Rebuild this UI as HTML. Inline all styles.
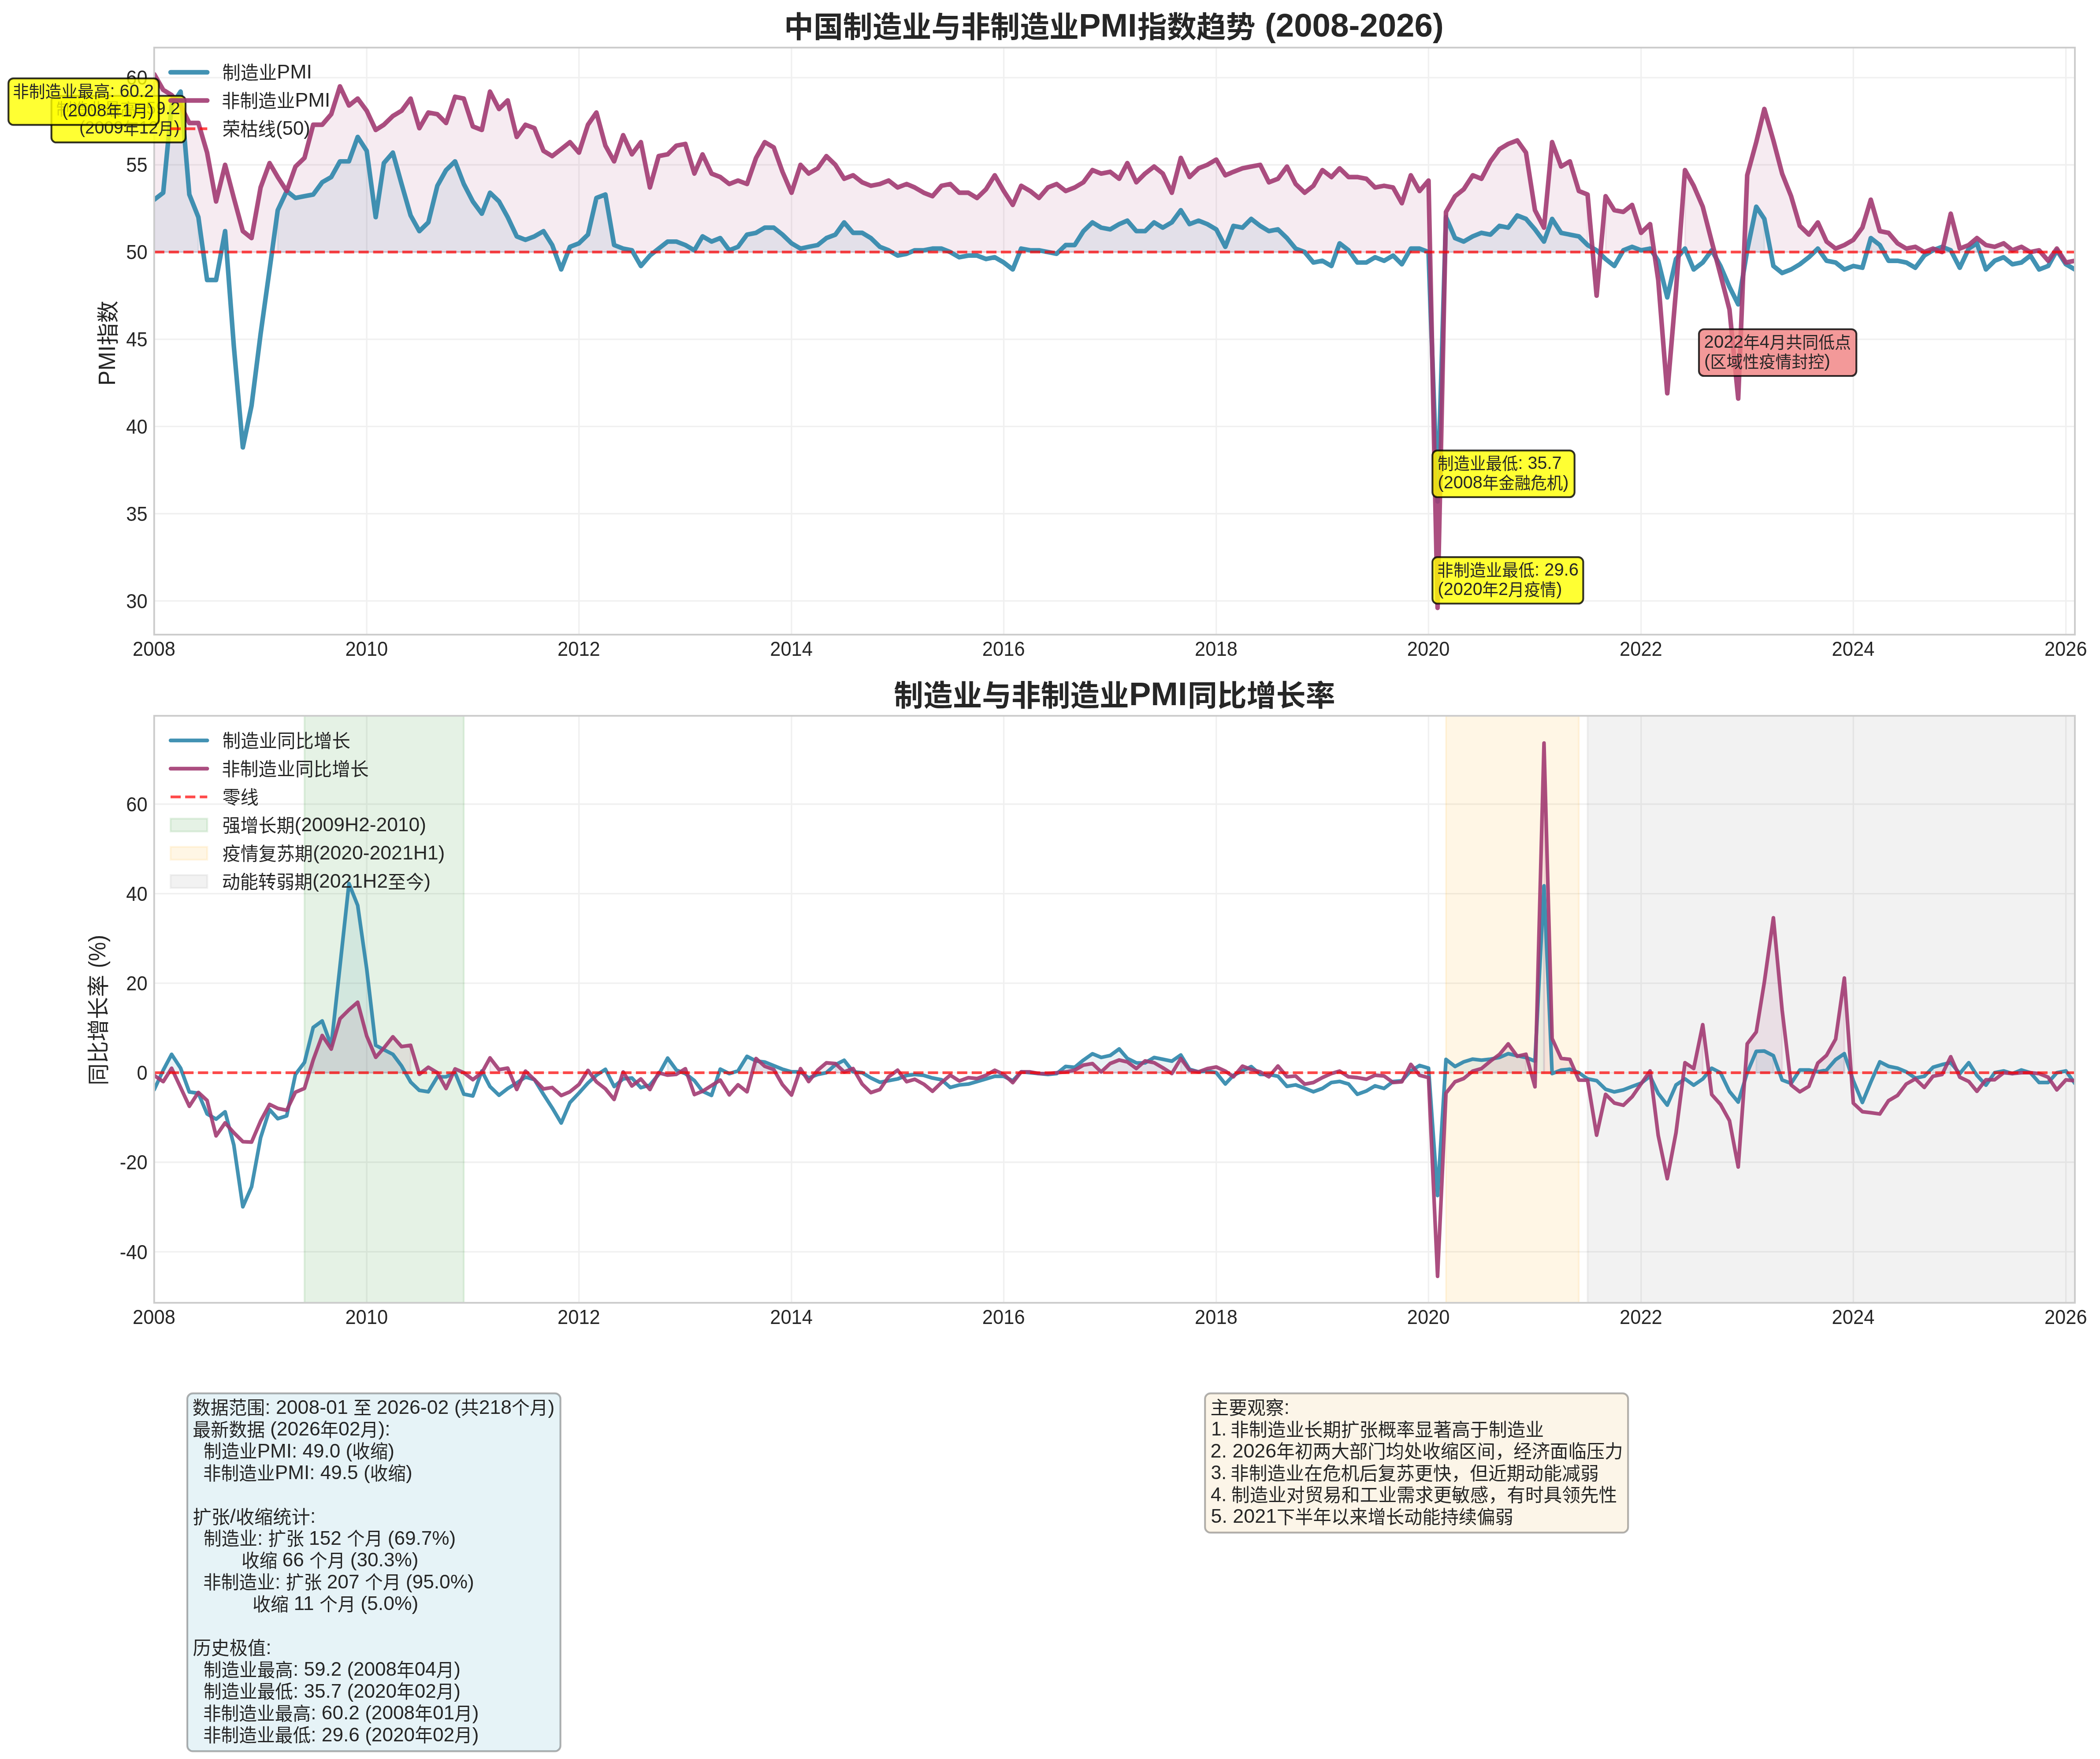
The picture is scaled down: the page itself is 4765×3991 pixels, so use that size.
<!DOCTYPE html>
<html lang="zh-CN"><head><meta charset="utf-8"><title>中国制造业与非制造业PMI指数趋势</title>
<style>html,body{margin:0;padding:0;background:#fff}svg{display:block;will-change:transform}</style></head>
<body>
<svg width="4765" height="3991" viewBox="0 0 4765 3991" font-family='"Liberation Sans","Noto Sans CJK SC",sans-serif' fill="#262626" xml:space="preserve" style="white-space:pre">
<rect width="4765" height="3991" fill="#fff"/>
<clipPath id="c1"><rect x="349.8" y="108.0" width="4358.2" height="1331.9"/></clipPath>
<clipPath id="c2"><rect x="349.8" y="1624.1" width="4358.2" height="1331.8"/></clipPath>
<path d="M349.8 108.0V1439.9M832.1 108.0V1439.9M1313.7 108.0V1439.9M1796.0 108.0V1439.9M2277.6 108.0V1439.9M2759.8 108.0V1439.9M3241.4 108.0V1439.9M3723.7 108.0V1439.9M4205.3 108.0V1439.9M4687.6 108.0V1439.9M349.8 1363.4H4708.0M349.8 1165.5H4708.0M349.8 967.6H4708.0M349.8 769.8H4708.0M349.8 571.9H4708.0M349.8 374.0H4708.0M349.8 176.1H4708.0" stroke="#ccc" stroke-opacity="0.3" stroke-width="3.3" fill="none"/>
<g clip-path="url(#c1)">
<path d="M349.8 571.9 L349.8 453.1 L370.3 437.3 L389.4 239.4 L409.8 207.8 L429.6 441.3 L450.1 492.7 L450.1 571.9Z M630.2 571.9 L630.2 476.9 L650.6 433.4 L670.4 449.2 L690.9 445.2 L710.7 441.3 L731.1 413.6 L751.6 401.7 L771.4 366.1 L791.8 366.1 L811.6 310.7 L832.1 342.3 L852.5 492.7 L871.0 370.0 L891.4 346.3 L911.2 417.5 L931.7 488.8 L951.5 524.4 L971.9 504.6 L992.4 421.5 L1012.2 385.9 L1032.6 366.1 L1052.4 417.5 L1072.9 457.1 L1093.3 484.8 L1111.8 437.3 L1132.3 457.1 L1152.0 492.7 L1172.5 536.3 L1192.3 544.2 L1212.7 536.3 L1233.2 524.4 L1253.0 556.0 L1253.0 571.9Z M1293.2 571.9 L1293.2 560.0 L1313.7 552.1 L1334.1 532.3 L1353.3 449.2 L1373.7 441.3 L1393.5 556.0 L1414.0 564.0 L1433.8 567.9 L1433.8 571.9Z M1494.5 571.9 L1494.5 564.0 L1514.9 548.1 L1534.7 548.1 L1555.1 556.0 L1575.6 567.9 L1594.1 536.3 L1614.5 548.1 L1634.3 540.2 L1654.8 567.9 L1674.6 560.0 L1695.0 532.3 L1715.5 528.3 L1735.3 516.5 L1755.7 516.5 L1775.5 532.3 L1796.0 552.1 L1816.4 564.0 L1834.9 560.0 L1855.3 556.0 L1875.1 540.2 L1895.6 532.3 L1915.4 504.6 L1935.8 528.3 L1956.3 528.3 L1976.1 540.2 L1996.5 560.0 L2016.3 567.9 L2016.3 571.9Z M2075.7 571.9 L2075.7 567.9 L2096.1 567.9 L2115.9 564.0 L2136.4 564.0 L2156.2 571.9 L2156.2 571.9Z M2317.1 571.9 L2317.1 564.0 L2337.6 567.9 L2357.4 567.9 L2377.8 571.9 L2377.8 571.9Z M2418.1 571.9 L2418.1 556.0 L2438.5 556.0 L2458.3 524.4 L2478.8 504.6 L2498.6 516.5 L2519.0 520.4 L2539.5 508.5 L2558.0 500.6 L2578.4 524.4 L2598.2 524.4 L2618.7 504.6 L2638.4 516.5 L2658.9 504.6 L2679.3 476.9 L2699.1 508.5 L2719.6 500.6 L2739.4 508.5 L2759.8 520.4 L2780.3 560.0 L2798.8 512.5 L2819.2 516.5 L2839.0 496.7 L2859.5 512.5 L2879.2 524.4 L2899.7 520.4 L2920.2 540.2 L2939.9 564.0 L2960.4 571.9 L2960.4 571.9Z M3039.6 571.9 L3039.6 552.1 L3060.0 567.9 L3060.0 571.9Z M3201.2 571.9 L3201.2 564.0 L3221.0 564.0 L3241.4 571.9 L3241.4 571.9Z M3281.0 571.9 L3281.0 492.7 L3301.5 540.2 L3321.3 548.1 L3341.7 536.3 L3361.5 528.3 L3382.0 532.3 L3402.4 512.5 L3422.2 516.5 L3442.7 488.8 L3462.5 496.7 L3482.9 520.4 L3503.4 548.1 L3521.8 496.7 L3542.3 528.3 L3562.1 532.3 L3582.5 536.3 L3602.3 556.0 L3622.8 567.9 L3622.8 571.9Z M3683.5 571.9 L3683.5 567.9 L3703.3 560.0 L3723.7 567.9 L3744.2 564.0 L3744.2 571.9Z M3964.5 571.9 L3964.5 567.9 L3985.0 469.0 L4003.4 496.7 L4003.4 571.9Z M4244.9 571.9 L4244.9 540.2 L4265.4 556.0 L4265.4 571.9Z M4386.1 571.9 L4386.1 567.9 L4406.6 560.0 L4426.3 567.9 L4426.3 571.9Z M4467.2 571.9 L4467.2 564.0 L4485.7 552.1 L4485.7 571.9Z" fill="#2E86AB" fill-opacity="0.1" stroke="#2E86AB" stroke-opacity="0.1" stroke-width="4.17" stroke-linejoin="miter"/>
<path d="M349.8 571.9 L349.8 168.2 L370.3 203.8 L389.4 215.7 L409.8 239.4 L429.6 279.0 L450.1 279.0 L469.9 346.3 L490.3 457.1 L510.8 374.0 L530.6 449.2 L551.0 524.4 L570.8 540.2 L591.3 425.4 L611.7 370.0 L630.2 401.7 L650.6 433.4 L670.4 377.9 L690.9 358.2 L710.7 283.0 L731.1 283.0 L751.6 259.2 L771.4 195.9 L791.8 239.4 L811.6 223.6 L832.1 251.3 L852.5 294.8 L871.0 283.0 L891.4 263.2 L911.2 251.3 L931.7 223.6 L951.5 290.9 L971.9 255.3 L992.4 259.2 L1012.2 279.0 L1032.6 219.6 L1052.4 223.6 L1072.9 286.9 L1093.3 294.8 L1111.8 207.8 L1132.3 247.3 L1152.0 227.6 L1172.5 310.7 L1192.3 283.0 L1212.7 290.9 L1233.2 342.3 L1253.0 354.2 L1273.4 338.4 L1293.2 322.5 L1313.7 346.3 L1334.1 283.0 L1353.3 255.3 L1373.7 330.5 L1393.5 366.1 L1414.0 306.7 L1433.8 350.2 L1454.2 322.5 L1474.7 425.4 L1494.5 354.2 L1514.9 350.2 L1534.7 330.5 L1555.1 326.5 L1575.6 393.8 L1594.1 350.2 L1614.5 393.8 L1634.3 401.7 L1654.8 417.5 L1674.6 409.6 L1695.0 417.5 L1715.5 358.2 L1735.3 322.5 L1755.7 334.4 L1775.5 389.8 L1796.0 437.3 L1816.4 374.0 L1834.9 393.8 L1855.3 381.9 L1875.1 354.2 L1895.6 374.0 L1915.4 405.6 L1935.8 397.7 L1956.3 413.6 L1976.1 421.5 L1996.5 417.5 L2016.3 409.6 L2036.8 425.4 L2057.2 417.5 L2075.7 425.4 L2096.1 437.3 L2115.9 445.2 L2136.4 421.5 L2156.2 417.5 L2176.6 437.3 L2197.1 437.3 L2216.9 449.2 L2237.3 429.4 L2257.1 397.7 L2277.6 433.4 L2298.0 465.0 L2317.1 421.5 L2337.6 433.4 L2357.4 449.2 L2377.8 425.4 L2397.6 417.5 L2418.1 433.4 L2438.5 425.4 L2458.3 413.6 L2478.8 385.9 L2498.6 393.8 L2519.0 389.8 L2539.5 405.6 L2558.0 370.0 L2578.4 413.6 L2598.2 393.8 L2618.7 377.9 L2638.4 393.8 L2658.9 437.3 L2679.3 358.2 L2699.1 401.7 L2719.6 381.9 L2739.4 374.0 L2759.8 362.1 L2780.3 397.7 L2798.8 389.8 L2819.2 381.9 L2839.0 377.9 L2859.5 374.0 L2879.2 413.6 L2899.7 405.6 L2920.2 377.9 L2939.9 417.5 L2960.4 437.3 L2980.2 421.5 L3000.6 385.9 L3021.1 401.7 L3039.6 381.9 L3060.0 401.7 L3079.8 401.7 L3100.3 405.6 L3120.1 425.4 L3140.5 421.5 L3161.0 425.4 L3180.8 461.1 L3201.2 397.7 L3221.0 433.4 L3241.4 409.6 L3241.4 571.9Z M3281.0 571.9 L3281.0 480.8 L3301.5 445.2 L3321.3 429.4 L3341.7 397.7 L3361.5 405.6 L3382.0 366.1 L3402.4 338.4 L3422.2 326.5 L3442.7 318.6 L3462.5 346.3 L3482.9 476.9 L3503.4 516.5 L3521.8 322.5 L3542.3 377.9 L3562.1 366.1 L3582.5 433.4 L3602.3 441.3 L3602.3 571.9Z M3643.2 571.9 L3643.2 445.2 L3663.0 476.9 L3683.5 480.8 L3703.3 465.0 L3723.7 528.3 L3744.2 508.5 L3744.2 571.9Z M3823.3 571.9 L3823.3 385.9 L3843.1 421.5 L3863.6 469.0 L3884.0 548.1 L3884.0 571.9Z M3964.5 571.9 L3964.5 397.7 L3985.0 322.5 L4003.4 247.3 L4023.9 318.6 L4043.7 393.8 L4064.1 445.2 L4083.9 512.5 L4104.4 532.3 L4124.8 504.6 L4144.6 548.1 L4165.1 564.0 L4184.9 556.0 L4205.3 544.2 L4225.8 516.5 L4244.9 453.1 L4265.4 524.4 L4285.2 528.3 L4305.6 552.1 L4325.4 564.0 L4345.9 560.0 L4366.3 571.9 L4386.1 564.0 L4406.6 571.9 L4426.3 484.8 L4446.8 564.0 L4467.2 556.0 L4485.7 540.2 L4506.2 556.0 L4526.0 560.0 L4546.4 552.1 L4566.2 567.9 L4586.7 560.0 L4607.1 571.9 L4626.9 567.9 L4626.9 571.9Z" fill="#A23B72" fill-opacity="0.1" stroke="#A23B72" stroke-opacity="0.1" stroke-width="4.17" stroke-linejoin="miter"/>
<polyline points="349.8,453.1 370.3,437.3 389.4,239.4 409.8,207.8 429.6,441.3 450.1,492.7 469.9,635.2 490.3,635.2 510.8,524.4 530.6,785.6 551.0,1015.1 570.8,920.1 591.3,757.9 611.7,611.4 630.2,476.9 650.6,433.4 670.4,449.2 690.9,445.2 710.7,441.3 731.1,413.6 751.6,401.7 771.4,366.1 791.8,366.1 811.6,310.7 832.1,342.3 852.5,492.7 871.0,370.0 891.4,346.3 911.2,417.5 931.7,488.8 951.5,524.4 971.9,504.6 992.4,421.5 1012.2,385.9 1032.6,366.1 1052.4,417.5 1072.9,457.1 1093.3,484.8 1111.8,437.3 1132.3,457.1 1152.0,492.7 1172.5,536.3 1192.3,544.2 1212.7,536.3 1233.2,524.4 1253.0,556.0 1273.4,611.4 1293.2,560.0 1313.7,552.1 1334.1,532.3 1353.3,449.2 1373.7,441.3 1393.5,556.0 1414.0,564.0 1433.8,567.9 1454.2,603.5 1474.7,579.8 1494.5,564.0 1514.9,548.1 1534.7,548.1 1555.1,556.0 1575.6,567.9 1594.1,536.3 1614.5,548.1 1634.3,540.2 1654.8,567.9 1674.6,560.0 1695.0,532.3 1715.5,528.3 1735.3,516.5 1755.7,516.5 1775.5,532.3 1796.0,552.1 1816.4,564.0 1834.9,560.0 1855.3,556.0 1875.1,540.2 1895.6,532.3 1915.4,504.6 1935.8,528.3 1956.3,528.3 1976.1,540.2 1996.5,560.0 2016.3,567.9 2036.8,579.8 2057.2,575.8 2075.7,567.9 2096.1,567.9 2115.9,564.0 2136.4,564.0 2156.2,571.9 2176.6,583.7 2197.1,579.8 2216.9,579.8 2237.3,587.7 2257.1,583.7 2277.6,595.6 2298.0,611.4 2317.1,564.0 2337.6,567.9 2357.4,567.9 2377.8,571.9 2397.6,575.8 2418.1,556.0 2438.5,556.0 2458.3,524.4 2478.8,504.6 2498.6,516.5 2519.0,520.4 2539.5,508.5 2558.0,500.6 2578.4,524.4 2598.2,524.4 2618.7,504.6 2638.4,516.5 2658.9,504.6 2679.3,476.9 2699.1,508.5 2719.6,500.6 2739.4,508.5 2759.8,520.4 2780.3,560.0 2798.8,512.5 2819.2,516.5 2839.0,496.7 2859.5,512.5 2879.2,524.4 2899.7,520.4 2920.2,540.2 2939.9,564.0 2960.4,571.9 2980.2,595.6 3000.6,591.7 3021.1,603.5 3039.6,552.1 3060.0,567.9 3079.8,595.6 3100.3,595.6 3120.1,583.7 3140.5,591.7 3161.0,579.8 3180.8,599.6 3201.2,564.0 3221.0,564.0 3241.4,571.9 3261.9,1137.8 3281.0,492.7 3301.5,540.2 3321.3,548.1 3341.7,536.3 3361.5,528.3 3382.0,532.3 3402.4,512.5 3422.2,516.5 3442.7,488.8 3462.5,496.7 3482.9,520.4 3503.4,548.1 3521.8,496.7 3542.3,528.3 3562.1,532.3 3582.5,536.3 3602.3,556.0 3622.8,567.9 3643.2,587.7 3663.0,603.5 3683.5,567.9 3703.3,560.0 3723.7,567.9 3744.2,564.0 3762.6,591.7 3783.1,674.8 3802.9,587.7 3823.3,564.0 3843.1,611.4 3863.6,595.6 3884.0,567.9 3903.8,603.5 3924.3,651.0 3944.1,690.6 3964.5,567.9 3985.0,469.0 4003.4,496.7 4023.9,603.5 4043.7,619.4 4064.1,611.4 4083.9,599.6 4104.4,583.7 4124.8,564.0 4144.6,591.7 4165.1,595.6 4184.9,611.4 4205.3,603.5 4225.8,607.5 4244.9,540.2 4265.4,556.0 4285.2,591.7 4305.6,591.7 4325.4,595.6 4345.9,607.5 4366.3,579.8 4386.1,567.9 4406.6,560.0 4426.3,567.9 4446.8,607.5 4467.2,564.0 4485.7,552.1 4506.2,611.4 4526.0,591.7 4546.4,583.7 4566.2,599.6 4586.7,595.6 4607.1,579.8 4626.9,611.4 4647.4,603.5 4667.1,567.9 4687.6,599.6 4708.1,611.4" fill="none" stroke="#2E86AB" stroke-opacity="0.9" stroke-width="10.4" stroke-linejoin="round" stroke-linecap="round"/>
<polyline points="349.8,168.2 370.3,203.8 389.4,215.7 409.8,239.4 429.6,279.0 450.1,279.0 469.9,346.3 490.3,457.1 510.8,374.0 530.6,449.2 551.0,524.4 570.8,540.2 591.3,425.4 611.7,370.0 630.2,401.7 650.6,433.4 670.4,377.9 690.9,358.2 710.7,283.0 731.1,283.0 751.6,259.2 771.4,195.9 791.8,239.4 811.6,223.6 832.1,251.3 852.5,294.8 871.0,283.0 891.4,263.2 911.2,251.3 931.7,223.6 951.5,290.9 971.9,255.3 992.4,259.2 1012.2,279.0 1032.6,219.6 1052.4,223.6 1072.9,286.9 1093.3,294.8 1111.8,207.8 1132.3,247.3 1152.0,227.6 1172.5,310.7 1192.3,283.0 1212.7,290.9 1233.2,342.3 1253.0,354.2 1273.4,338.4 1293.2,322.5 1313.7,346.3 1334.1,283.0 1353.3,255.3 1373.7,330.5 1393.5,366.1 1414.0,306.7 1433.8,350.2 1454.2,322.5 1474.7,425.4 1494.5,354.2 1514.9,350.2 1534.7,330.5 1555.1,326.5 1575.6,393.8 1594.1,350.2 1614.5,393.8 1634.3,401.7 1654.8,417.5 1674.6,409.6 1695.0,417.5 1715.5,358.2 1735.3,322.5 1755.7,334.4 1775.5,389.8 1796.0,437.3 1816.4,374.0 1834.9,393.8 1855.3,381.9 1875.1,354.2 1895.6,374.0 1915.4,405.6 1935.8,397.7 1956.3,413.6 1976.1,421.5 1996.5,417.5 2016.3,409.6 2036.8,425.4 2057.2,417.5 2075.7,425.4 2096.1,437.3 2115.9,445.2 2136.4,421.5 2156.2,417.5 2176.6,437.3 2197.1,437.3 2216.9,449.2 2237.3,429.4 2257.1,397.7 2277.6,433.4 2298.0,465.0 2317.1,421.5 2337.6,433.4 2357.4,449.2 2377.8,425.4 2397.6,417.5 2418.1,433.4 2438.5,425.4 2458.3,413.6 2478.8,385.9 2498.6,393.8 2519.0,389.8 2539.5,405.6 2558.0,370.0 2578.4,413.6 2598.2,393.8 2618.7,377.9 2638.4,393.8 2658.9,437.3 2679.3,358.2 2699.1,401.7 2719.6,381.9 2739.4,374.0 2759.8,362.1 2780.3,397.7 2798.8,389.8 2819.2,381.9 2839.0,377.9 2859.5,374.0 2879.2,413.6 2899.7,405.6 2920.2,377.9 2939.9,417.5 2960.4,437.3 2980.2,421.5 3000.6,385.9 3021.1,401.7 3039.6,381.9 3060.0,401.7 3079.8,401.7 3100.3,405.6 3120.1,425.4 3140.5,421.5 3161.0,425.4 3180.8,461.1 3201.2,397.7 3221.0,433.4 3241.4,409.6 3261.9,1379.2 3281.0,480.8 3301.5,445.2 3321.3,429.4 3341.7,397.7 3361.5,405.6 3382.0,366.1 3402.4,338.4 3422.2,326.5 3442.7,318.6 3462.5,346.3 3482.9,476.9 3503.4,516.5 3521.8,322.5 3542.3,377.9 3562.1,366.1 3582.5,433.4 3602.3,441.3 3622.8,670.8 3643.2,445.2 3663.0,476.9 3683.5,480.8 3703.3,465.0 3723.7,528.3 3744.2,508.5 3762.6,635.2 3783.1,892.4 3802.9,658.9 3823.3,385.9 3843.1,421.5 3863.6,469.0 3884.0,548.1 3903.8,623.3 3924.3,702.5 3944.1,904.3 3964.5,397.7 3985.0,322.5 4003.4,247.3 4023.9,318.6 4043.7,393.8 4064.1,445.2 4083.9,512.5 4104.4,532.3 4124.8,504.6 4144.6,548.1 4165.1,564.0 4184.9,556.0 4205.3,544.2 4225.8,516.5 4244.9,453.1 4265.4,524.4 4285.2,528.3 4305.6,552.1 4325.4,564.0 4345.9,560.0 4366.3,571.9 4386.1,564.0 4406.6,571.9 4426.3,484.8 4446.8,564.0 4467.2,556.0 4485.7,540.2 4506.2,556.0 4526.0,560.0 4546.4,552.1 4566.2,567.9 4586.7,560.0 4607.1,571.9 4626.9,567.9 4647.4,591.7 4667.1,564.0 4687.6,595.6 4708.1,591.7" fill="none" stroke="#A23B72" stroke-opacity="0.9" stroke-width="10.4" stroke-linejoin="round" stroke-linecap="round"/>
<path d="M349.8 571.9H4708.0" stroke="#f00" stroke-opacity="0.7" stroke-width="6.25" stroke-dasharray="23.125 10" fill="none"/>
</g>
<rect x="349.8" y="108.0" width="4358.2" height="1331.9" fill="none" stroke="#ccc" stroke-width="3.9"/>
<text><tspan x="301.1" y="1487.5" font-size="45.50" textLength="96.8" lengthAdjust="spacingAndGlyphs">2008</tspan></text>
<text><tspan x="783.4" y="1487.5" font-size="45.50" textLength="96.8" lengthAdjust="spacingAndGlyphs">2010</tspan></text>
<text><tspan x="1265.0" y="1487.5" font-size="45.50" textLength="96.8" lengthAdjust="spacingAndGlyphs">2012</tspan></text>
<text><tspan x="1747.2" y="1487.5" font-size="45.50" textLength="96.8" lengthAdjust="spacingAndGlyphs">2014</tspan></text>
<text><tspan x="2228.8" y="1487.5" font-size="45.50" textLength="96.8" lengthAdjust="spacingAndGlyphs">2016</tspan></text>
<text><tspan x="2711.1" y="1487.5" font-size="45.50" textLength="96.8" lengthAdjust="spacingAndGlyphs">2018</tspan></text>
<text><tspan x="3192.7" y="1487.5" font-size="45.50" textLength="96.8" lengthAdjust="spacingAndGlyphs">2020</tspan></text>
<text><tspan x="3675.0" y="1487.5" font-size="45.50" textLength="96.8" lengthAdjust="spacingAndGlyphs">2022</tspan></text>
<text><tspan x="4156.6" y="1487.5" font-size="45.50" textLength="96.8" lengthAdjust="spacingAndGlyphs">2024</tspan></text>
<text><tspan x="4638.9" y="1487.5" font-size="45.50" textLength="96.8" lengthAdjust="spacingAndGlyphs">2026</tspan></text>
<text><tspan x="286.3" y="1379.7" font-size="45.50" textLength="48.4" lengthAdjust="spacingAndGlyphs">30</tspan></text>
<text><tspan x="286.3" y="1181.8" font-size="45.50" textLength="48.4" lengthAdjust="spacingAndGlyphs">35</tspan></text>
<text><tspan x="286.3" y="983.9" font-size="45.50" textLength="48.4" lengthAdjust="spacingAndGlyphs">40</tspan></text>
<text><tspan x="286.3" y="786.1" font-size="45.50" textLength="48.4" lengthAdjust="spacingAndGlyphs">45</tspan></text>
<text><tspan x="286.3" y="588.2" font-size="45.50" textLength="48.4" lengthAdjust="spacingAndGlyphs">50</tspan></text>
<text><tspan x="286.3" y="390.3" font-size="45.50" textLength="48.4" lengthAdjust="spacingAndGlyphs">55</tspan></text>
<text><tspan x="286.3" y="192.4" font-size="45.50" textLength="48.4" lengthAdjust="spacingAndGlyphs">60</tspan></text>
<text font-weight="bold"><tspan x="1779.0" y="85.2" font-size="66.67" textLength="669.0" lengthAdjust="spacingAndGlyphs">中国制造业与非制造业</tspan><tspan x="2447.9" y="82.9" font-size="74.00" textLength="131.7" lengthAdjust="spacingAndGlyphs">PMI</tspan><tspan x="2581.1" y="85.2" font-size="66.67" textLength="267.5" lengthAdjust="spacingAndGlyphs">指数趋势</tspan> <tspan x="2869.9" y="82.9" font-size="74.00" textLength="405.9" lengthAdjust="spacingAndGlyphs">(2008-2026)</tspan></text>
<text transform="translate(260.9,871.1) rotate(-90)"><tspan x="-3.8" y="0.0" font-size="54.25" textLength="91.1" lengthAdjust="spacingAndGlyphs">PMI</tspan><tspan x="87.9" y="1.8" font-size="50.00" textLength="101.1" lengthAdjust="spacingAndGlyphs">指数</tspan></text>
<rect x="116.7" y="217.5" width="304.3" height="105.7" rx="11.25" ry="11.25" fill="#ff0" fill-opacity="0.8" stroke="#000" stroke-opacity="0.8" stroke-width="4.17"/>
<text><tspan x="127.6" y="260.6" font-size="37.50" textLength="182.2" lengthAdjust="spacingAndGlyphs">制造业最高</tspan><tspan x="309.8" y="259.3" font-size="40.69" textLength="98.9" lengthAdjust="spacingAndGlyphs">: 59.2</tspan></text>
<text><tspan x="180.1" y="303.3" font-size="40.69" textLength="99.6" lengthAdjust="spacingAndGlyphs">(2009</tspan><tspan x="279.7" y="304.6" font-size="37.50" textLength="35.9" lengthAdjust="spacingAndGlyphs">年</tspan><tspan x="315.6" y="303.3" font-size="40.69" textLength="43.3" lengthAdjust="spacingAndGlyphs">12</tspan><tspan x="358.9" y="304.6" font-size="37.50" textLength="35.9" lengthAdjust="spacingAndGlyphs">月</tspan><tspan x="394.8" y="303.3" font-size="40.69" textLength="13.0" lengthAdjust="spacingAndGlyphs">)</tspan></text>
<rect x="19.2" y="177.8" width="341.2" height="105.5" rx="11.25" ry="11.25" fill="#ff0" fill-opacity="0.8" stroke="#000" stroke-opacity="0.8" stroke-width="4.17"/>
<text><tspan x="29.0" y="220.9" font-size="37.50" textLength="220.4" lengthAdjust="spacingAndGlyphs">非制造业最高</tspan><tspan x="249.4" y="219.6" font-size="40.69" textLength="99.7" lengthAdjust="spacingAndGlyphs">: 60.2</tspan></text>
<text><tspan x="141.1" y="263.6" font-size="40.69" textLength="100.4" lengthAdjust="spacingAndGlyphs">(2008</tspan><tspan x="241.4" y="264.9" font-size="37.50" textLength="36.2" lengthAdjust="spacingAndGlyphs">年</tspan><tspan x="277.6" y="263.6" font-size="40.69" textLength="21.8" lengthAdjust="spacingAndGlyphs">1</tspan><tspan x="299.4" y="264.9" font-size="37.50" textLength="36.2" lengthAdjust="spacingAndGlyphs">月</tspan><tspan x="335.6" y="263.6" font-size="40.69" textLength="13.1" lengthAdjust="spacingAndGlyphs">)</tspan></text>
<rect x="3250.3" y="1022.2" width="322.4" height="105.8" rx="11.25" ry="11.25" fill="#ff0" fill-opacity="0.8" stroke="#000" stroke-opacity="0.8" stroke-width="4.17"/>
<text><tspan x="3262.1" y="1065.3" font-size="37.50" textLength="182.4" lengthAdjust="spacingAndGlyphs">制造业最低</tspan><tspan x="3444.6" y="1064.0" font-size="40.69" textLength="99.0" lengthAdjust="spacingAndGlyphs">: 35.7</tspan></text>
<text><tspan x="3262.6" y="1108.0" font-size="40.69" textLength="101.3" lengthAdjust="spacingAndGlyphs">(2008</tspan><tspan x="3363.8" y="1109.3" font-size="37.50" textLength="182.5" lengthAdjust="spacingAndGlyphs">年金融危机</tspan><tspan x="3546.3" y="1108.0" font-size="40.69" textLength="13.2" lengthAdjust="spacingAndGlyphs">)</tspan></text>
<rect x="3250.3" y="1264.2" width="342.1" height="105.3" rx="11.25" ry="11.25" fill="#ff0" fill-opacity="0.8" stroke="#000" stroke-opacity="0.8" stroke-width="4.17"/>
<text><tspan x="3261.1" y="1307.3" font-size="37.50" textLength="220.9" lengthAdjust="spacingAndGlyphs">非制造业最低</tspan><tspan x="3482.0" y="1306.0" font-size="40.69" textLength="99.9" lengthAdjust="spacingAndGlyphs">: 29.6</tspan></text>
<text><tspan x="3262.6" y="1350.0" font-size="40.69" textLength="101.0" lengthAdjust="spacingAndGlyphs">(2020</tspan><tspan x="3363.6" y="1351.3" font-size="37.50" textLength="36.4" lengthAdjust="spacingAndGlyphs">年</tspan><tspan x="3400.0" y="1350.0" font-size="40.69" textLength="22.0" lengthAdjust="spacingAndGlyphs">2</tspan><tspan x="3422.0" y="1351.3" font-size="37.50" textLength="109.3" lengthAdjust="spacingAndGlyphs">月疫情</tspan><tspan x="3531.2" y="1350.0" font-size="40.69" textLength="13.2" lengthAdjust="spacingAndGlyphs">)</tspan></text>
<rect x="3855.0" y="747.0" width="357.2" height="106.0" rx="11.25" ry="11.25" fill="#F08080" fill-opacity="0.8" stroke="#000" stroke-opacity="0.8" stroke-width="4.17"/>
<text><tspan x="3866.6" y="788.8" font-size="40.69" textLength="89.2" lengthAdjust="spacingAndGlyphs">2022</tspan><tspan x="3955.9" y="790.1" font-size="37.50" textLength="37.0" lengthAdjust="spacingAndGlyphs">年</tspan><tspan x="3992.8" y="788.8" font-size="40.69" textLength="22.3" lengthAdjust="spacingAndGlyphs">4</tspan><tspan x="4015.2" y="790.1" font-size="37.50" textLength="184.9" lengthAdjust="spacingAndGlyphs">月共同低点</tspan></text>
<text><tspan x="3867.1" y="832.8" font-size="40.69" textLength="13.4" lengthAdjust="spacingAndGlyphs">(</tspan><tspan x="3880.5" y="834.1" font-size="37.50" textLength="259.1" lengthAdjust="spacingAndGlyphs">区域性疫情封控</tspan><tspan x="4139.6" y="832.8" font-size="40.69" textLength="13.4" lengthAdjust="spacingAndGlyphs">)</tspan></text>
<path d="M387.0 164H470.3" stroke="#2E86AB" stroke-opacity="0.9" stroke-width="10.4" stroke-linecap="round" fill="none"/>
<text><tspan x="504.5" y="179.5" font-size="41.67" textLength="123.7" lengthAdjust="spacingAndGlyphs">制造业</tspan><tspan x="628.3" y="178.0" font-size="45.21" textLength="79.6" lengthAdjust="spacingAndGlyphs">PMI</tspan></text>
<path d="M387.0 228H470.3" stroke="#A23B72" stroke-opacity="0.9" stroke-width="10.4" stroke-linecap="round" fill="none"/>
<text><tspan x="503.0" y="243.5" font-size="41.67" textLength="166.2" lengthAdjust="spacingAndGlyphs">非制造业</tspan><tspan x="669.2" y="242.0" font-size="45.21" textLength="80.2" lengthAdjust="spacingAndGlyphs">PMI</tspan></text>
<path d="M387.0 292H470.3" stroke="#f00" stroke-opacity="0.7" stroke-width="6.25" stroke-dasharray="23.125 10" fill="none"/>
<text><tspan x="504.8" y="307.5" font-size="41.67" textLength="121.1" lengthAdjust="spacingAndGlyphs">荣枯线</tspan><tspan x="626.0" y="306.0" font-size="45.21" textLength="77.9" lengthAdjust="spacingAndGlyphs">(50)</tspan></text>
<path d="M349.8 1624.1V2955.9M832.1 1624.1V2955.9M1313.7 1624.1V2955.9M1796.0 1624.1V2955.9M2277.6 1624.1V2955.9M2759.8 1624.1V2955.9M3241.4 1624.1V2955.9M3723.7 1624.1V2955.9M4205.3 1624.1V2955.9M4687.6 1624.1V2955.9M349.8 2840.2H4708.0M349.8 2637.0H4708.0M349.8 2433.9H4708.0M349.8 2230.8H4708.0M349.8 2027.6H4708.0M349.8 1824.5H4708.0" stroke="#ccc" stroke-opacity="0.3" stroke-width="3.3" fill="none"/>
<g clip-path="url(#c2)">
<rect x="690.9" y="1624.1" width="361.5" height="1331.8" fill="#008000" fill-opacity="0.1" stroke="#008000" stroke-opacity="0.1" stroke-width="4.17"/>
<rect x="3281.0" y="1624.1" width="301.5" height="1331.8" fill="#FFA500" fill-opacity="0.1" stroke="#FFA500" stroke-opacity="0.1" stroke-width="4.17"/>
<rect x="3602.3" y="1624.1" width="1105.7" height="1331.8" fill="#808080" fill-opacity="0.1" stroke="#808080" stroke-opacity="0.1" stroke-width="4.17"/>
<path d="M370.3 2433.9 L370.3 2428.2 L389.4 2392.3 L409.8 2423.5 L409.8 2433.9Z M690.9 2433.9 L690.9 2410.5 L710.7 2331.1 L731.1 2316.4 L751.6 2372.4 L771.4 2192.5 L791.8 2004.6 L811.6 2054.2 L832.1 2198.5 L852.5 2371.7 L871.0 2381.6 L891.4 2392.1 L911.2 2418.6 L911.2 2433.9Z M1514.9 2433.9 L1514.9 2400.7 L1534.7 2427.8 L1534.7 2433.9Z M1674.6 2433.9 L1674.6 2429.8 L1695.0 2396.7 L1715.5 2407.4 L1735.3 2409.6 L1755.7 2417.8 L1775.5 2425.9 L1796.0 2431.9 L1816.4 2431.9 L1816.4 2433.9Z M1895.6 2433.9 L1895.6 2415.7 L1915.4 2405.6 L1935.8 2431.9 L1935.8 2433.9Z M2418.1 2433.9 L2418.1 2419.6 L2438.5 2421.7 L2458.3 2405.3 L2478.8 2390.9 L2498.6 2399.2 L2519.0 2394.8 L2539.5 2380.0 L2558.0 2401.5 L2578.4 2411.6 L2598.2 2411.6 L2618.7 2399.4 L2638.4 2403.4 L2658.9 2407.7 L2679.3 2393.6 L2699.1 2426.0 L2719.6 2431.9 L2739.4 2429.9 L2739.4 2433.9Z M2819.2 2433.9 L2819.2 2429.9 L2839.0 2420.0 L2839.0 2433.9Z M3201.2 2433.9 L3201.2 2429.8 L3221.0 2417.5 L3241.4 2423.6 L3241.4 2433.9Z M3281.0 2433.9 L3281.0 2403.7 L3301.5 2419.7 L3321.3 2409.2 L3341.7 2403.1 L3361.5 2405.3 L3382.0 2403.1 L3402.4 2399.2 L3422.2 2390.6 L3442.7 2395.5 L3462.5 2399.5 L3482.9 2407.5 L3503.4 2010.0 L3503.4 2433.9Z M3542.3 2433.9 L3542.3 2427.9 L3562.1 2425.9 L3562.1 2433.9Z M3985.0 2433.9 L3985.0 2385.3 L4003.4 2384.7 L4023.9 2395.3 L4023.9 2433.9Z M4083.9 2433.9 L4083.9 2427.7 L4104.4 2427.7 L4124.8 2431.9 L4144.6 2427.7 L4165.1 2404.3 L4184.9 2390.7 L4184.9 2433.9Z M4265.4 2433.9 L4265.4 2409.1 L4285.2 2419.3 L4305.6 2423.5 L4325.4 2431.8 L4325.4 2433.9Z M4386.1 2433.9 L4386.1 2421.6 L4406.6 2415.4 L4426.3 2411.1 L4426.3 2433.9Z" fill="#2E86AB" fill-opacity="0.1" stroke="#2E86AB" stroke-opacity="0.1" stroke-width="4.17" stroke-linejoin="miter"/>
<path d="M710.7 2433.9 L710.7 2404.7 L731.1 2349.4 L751.6 2380.3 L771.4 2311.5 L791.8 2291.1 L811.6 2273.9 L832.1 2350.7 L852.5 2398.9 L871.0 2377.8 L891.4 2352.3 L911.2 2374.7 L931.7 2371.6 L931.7 2433.9Z M1111.8 2433.9 L1111.8 2400.2 L1132.3 2426.9 L1152.0 2423.4 L1152.0 2433.9Z M1715.5 2433.9 L1715.5 2401.7 L1735.3 2419.3 L1755.7 2426.6 L1755.7 2433.9Z M1855.3 2433.9 L1855.3 2428.3 L1875.1 2411.5 L1895.6 2413.2 L1915.4 2432.0 L1935.8 2424.5 L1935.8 2433.9Z M2317.1 2433.9 L2317.1 2432.0 L2337.6 2432.0 L2337.6 2433.9Z M2418.1 2433.9 L2418.1 2432.0 L2438.5 2428.2 L2458.3 2416.7 L2478.8 2413.1 L2498.6 2432.0 L2519.0 2413.0 L2539.5 2405.0 L2558.0 2409.4 L2578.4 2424.4 L2598.2 2407.1 L2618.7 2411.2 L2638.4 2422.6 L2638.4 2433.9Z M2679.3 2433.9 L2679.3 2401.7 L2699.1 2428.3 L2719.6 2432.0 L2739.4 2424.6 L2759.8 2420.9 L2780.3 2430.2 L2780.3 2433.9Z M2819.2 2433.9 L2819.2 2418.9 L2839.0 2426.4 L2859.5 2432.0 L2859.5 2433.9Z M3341.7 2433.9 L3341.7 2430.2 L3361.5 2424.4 L3382.0 2407.5 L3402.4 2392.3 L3422.2 2368.5 L3442.7 2396.6 L3462.5 2392.1 L3462.5 2433.9Z M3503.4 2433.9 L3503.4 1685.9 L3521.8 2356.2 L3542.3 2401.4 L3562.1 2403.6 L3562.1 2433.9Z M3823.3 2433.9 L3823.3 2411.1 L3843.1 2424.4 L3863.6 2324.8 L3863.6 2433.9Z M3964.5 2433.9 L3964.5 2368.3 L3985.0 2341.4 L4003.4 2228.2 L4023.9 2082.4 L4043.7 2291.5 L4043.7 2433.9Z M4124.8 2433.9 L4124.8 2411.8 L4144.6 2394.3 L4165.1 2357.8 L4184.9 2219.0 L4184.9 2433.9Z" fill="#A23B72" fill-opacity="0.1" stroke="#A23B72" stroke-opacity="0.1" stroke-width="4.17" stroke-linejoin="miter"/>
<polyline points="349.8,2472.6 370.3,2428.2 389.4,2392.3 409.8,2423.5 429.6,2477.7 450.1,2480.5 469.9,2527.3 490.3,2539.2 510.8,2522.6 530.6,2598.1 551.0,2738.2 570.8,2692.9 591.3,2581.5 611.7,2517.6 630.2,2538.3 650.6,2531.7 670.4,2437.7 690.9,2410.5 710.7,2331.1 731.1,2316.4 751.6,2372.4 771.4,2192.5 791.8,2004.6 811.6,2054.2 832.1,2198.5 852.5,2371.7 871.0,2381.6 891.4,2392.1 911.2,2418.6 931.7,2454.9 951.5,2473.9 971.9,2477.2 992.4,2443.3 1012.2,2443.1 1032.6,2433.9 1052.4,2482.4 1072.9,2486.7 1093.3,2430.0 1111.8,2465.2 1132.3,2485.0 1152.0,2469.7 1172.5,2457.3 1192.3,2443.8 1212.7,2449.6 1233.2,2483.0 1253.0,2513.7 1273.4,2548.0 1293.2,2501.7 1313.7,2480.0 1334.1,2457.2 1353.3,2439.6 1373.7,2426.2 1393.5,2465.2 1414.0,2447.9 1433.8,2445.9 1454.2,2467.8 1474.7,2461.7 1494.5,2437.9 1514.9,2400.7 1534.7,2427.8 1555.1,2435.9 1575.6,2451.8 1594.1,2476.0 1614.5,2485.4 1634.3,2425.8 1654.8,2435.9 1674.6,2429.8 1695.0,2396.7 1715.5,2407.4 1735.3,2409.6 1755.7,2417.8 1775.5,2425.9 1796.0,2431.9 1816.4,2431.9 1834.9,2445.9 1855.3,2437.9 1875.1,2433.9 1895.6,2415.7 1915.4,2405.6 1935.8,2431.9 1956.3,2433.9 1976.1,2445.8 1996.5,2455.6 2016.3,2451.8 2036.8,2448.0 2057.2,2440.0 2075.7,2437.9 2096.1,2439.9 2115.9,2445.9 2136.4,2449.8 2156.2,2467.3 2176.6,2461.7 2197.1,2459.7 2216.9,2453.9 2237.3,2448.0 2257.1,2442.0 2277.6,2442.1 2298.0,2452.2 2317.1,2431.9 2337.6,2433.9 2357.4,2435.9 2377.8,2437.9 2397.6,2435.9 2418.1,2419.6 2438.5,2421.7 2458.3,2405.3 2478.8,2390.9 2498.6,2399.2 2519.0,2394.8 2539.5,2380.0 2558.0,2401.5 2578.4,2411.6 2598.2,2411.6 2618.7,2399.4 2638.4,2403.4 2658.9,2407.7 2679.3,2393.6 2699.1,2426.0 2719.6,2431.9 2739.4,2429.9 2759.8,2433.9 2780.3,2459.5 2798.8,2439.8 2819.2,2429.9 2839.0,2420.0 2859.5,2437.8 2879.2,2437.9 2899.7,2441.8 2920.2,2464.9 2939.9,2461.5 2960.4,2469.2 2980.2,2477.2 3000.6,2469.5 3021.1,2456.1 3039.6,2453.6 3060.0,2459.6 3079.8,2482.8 3100.3,2475.3 3120.1,2463.7 3140.5,2469.5 3161.0,2453.9 3180.8,2452.1 3201.2,2429.8 3221.0,2417.5 3241.4,2423.6 3261.9,2712.6 3281.0,2403.7 3301.5,2419.7 3321.3,2409.2 3341.7,2403.1 3361.5,2405.3 3382.0,2403.1 3402.4,2399.2 3422.2,2390.6 3442.7,2395.5 3462.5,2399.5 3482.9,2407.5 3503.4,2010.0 3521.8,2435.9 3542.3,2427.9 3562.1,2425.9 3582.5,2433.9 3602.3,2447.8 3622.8,2451.8 3643.2,2471.4 3663.0,2477.4 3683.5,2472.9 3703.3,2465.2 3723.7,2457.7 3744.2,2441.9 3762.6,2480.9 3783.1,2507.4 3802.9,2461.8 3823.3,2447.9 3843.1,2462.1 3863.6,2448.1 3884.0,2423.7 3903.8,2433.9 3924.3,2476.5 3944.1,2500.5 3964.5,2433.9 3985.0,2385.3 4003.4,2384.7 4023.9,2395.3 4043.7,2450.3 4064.1,2458.2 4083.9,2427.7 4104.4,2427.7 4124.8,2431.9 4144.6,2427.7 4165.1,2404.3 4184.9,2390.7 4205.3,2452.1 4225.8,2501.5 4244.9,2455.4 4265.4,2409.1 4285.2,2419.3 4305.6,2423.5 4325.4,2431.8 4345.9,2446.2 4366.3,2442.0 4386.1,2421.6 4406.6,2415.4 4426.3,2411.1 4446.8,2436.0 4467.2,2411.1 4485.7,2439.9 4506.2,2462.1 4526.0,2433.9 4546.4,2429.8 4566.2,2436.0 4586.7,2427.7 4607.1,2433.9 4626.9,2456.2 4647.4,2456.1 4667.1,2433.9 4687.6,2429.8 4708.1,2458.2" fill="none" stroke="#2E86AB" stroke-opacity="0.9" stroke-width="8.33" stroke-linejoin="round" stroke-linecap="round"/>
<polyline points="349.8,2440.0 370.3,2454.2 389.4,2423.7 409.8,2467.4 429.6,2510.1 450.1,2478.6 469.9,2496.9 490.3,2577.1 510.8,2547.7 530.6,2570.0 551.0,2590.3 570.8,2591.3 591.3,2543.6 611.7,2505.8 630.2,2514.8 650.6,2519.1 670.4,2478.1 690.9,2469.3 710.7,2404.7 731.1,2349.4 751.6,2380.3 771.4,2311.5 791.8,2291.1 811.6,2273.9 832.1,2350.7 852.5,2398.9 871.0,2377.8 891.4,2352.3 911.2,2374.7 931.7,2371.6 951.5,2437.4 971.9,2421.5 992.4,2433.9 1012.2,2469.7 1032.6,2425.2 1052.4,2433.9 1072.9,2449.6 1093.3,2433.9 1111.8,2400.2 1132.3,2426.9 1152.0,2423.4 1172.5,2471.9 1192.3,2430.3 1212.7,2449.7 1233.2,2470.7 1253.0,2467.5 1273.4,2485.6 1293.2,2477.1 1313.7,2460.5 1334.1,2428.6 1353.3,2454.5 1373.7,2470.5 1393.5,2494.5 1414.0,2432.1 1433.8,2464.0 1454.2,2448.1 1474.7,2472.1 1494.5,2433.9 1514.9,2439.4 1534.7,2437.5 1555.1,2424.8 1575.6,2483.5 1594.1,2475.9 1614.5,2462.9 1634.3,2450.5 1654.8,2484.1 1674.6,2461.3 1695.0,2477.2 1715.5,2401.7 1735.3,2419.3 1755.7,2426.6 1775.5,2461.1 1796.0,2484.5 1816.4,2424.6 1834.9,2454.0 1855.3,2428.3 1875.1,2411.5 1895.6,2413.2 1915.4,2432.0 1935.8,2424.5 1956.3,2459.6 1976.1,2479.0 1996.5,2472.0 2016.3,2443.2 2036.8,2428.2 2057.2,2454.2 2075.7,2448.8 2096.1,2459.8 2115.9,2476.0 2136.4,2456.1 2156.2,2439.5 2176.6,2452.6 2197.1,2445.2 2216.9,2447.1 2237.3,2439.6 2257.1,2428.3 2277.6,2437.7 2298.0,2456.5 2317.1,2432.0 2337.6,2432.0 2357.4,2435.8 2377.8,2435.8 2397.6,2433.9 2418.1,2432.0 2438.5,2428.2 2458.3,2416.7 2478.8,2413.1 2498.6,2432.0 2519.0,2413.0 2539.5,2405.0 2558.0,2409.4 2578.4,2424.4 2598.2,2407.1 2618.7,2411.2 2638.4,2422.6 2658.9,2435.8 2679.3,2401.7 2699.1,2428.3 2719.6,2432.0 2739.4,2424.6 2759.8,2420.9 2780.3,2430.2 2798.8,2443.1 2819.2,2418.9 2839.0,2426.4 2859.5,2432.0 2879.2,2443.2 2899.7,2418.7 2920.2,2443.1 2939.9,2441.4 2960.4,2459.8 2980.2,2456.1 3000.6,2444.9 3021.1,2435.8 3039.6,2430.2 3060.0,2443.2 3079.8,2445.0 3100.3,2448.7 3120.1,2439.5 3140.5,2441.4 3161.0,2456.1 3180.8,2454.6 3201.2,2414.9 3221.0,2439.6 3241.4,2445.0 3261.9,2895.9 3281.0,2480.2 3301.5,2454.5 3321.3,2447.0 3341.7,2430.2 3361.5,2424.4 3382.0,2407.5 3402.4,2392.3 3422.2,2368.5 3442.7,2396.6 3462.5,2392.1 3482.9,2465.8 3503.4,1685.9 3521.8,2356.2 3542.3,2401.4 3562.1,2403.6 3582.5,2450.7 3602.3,2450.8 3622.8,2575.6 3643.2,2483.0 3663.0,2502.6 3683.5,2507.7 3703.3,2488.6 3723.7,2459.1 3744.2,2429.9 3762.6,2576.4 3783.1,2674.4 3802.9,2570.1 3823.3,2411.1 3843.1,2424.4 3863.6,2324.8 3884.0,2483.5 3903.8,2505.6 3924.3,2542.7 3944.1,2647.8 3964.5,2368.3 3985.0,2341.4 4003.4,2228.2 4023.9,2082.4 4043.7,2291.5 4064.1,2461.8 4083.9,2477.3 4104.4,2464.8 4124.8,2411.8 4144.6,2394.3 4165.1,2357.8 4184.9,2219.0 4205.3,2503.0 4225.8,2522.3 4244.9,2524.6 4265.4,2527.5 4285.2,2497.3 4305.6,2485.4 4325.4,2459.5 4345.9,2447.8 4366.3,2467.3 4386.1,2441.9 4406.6,2437.9 4426.3,2397.6 4446.8,2443.9 4467.2,2453.7 4485.7,2476.1 4506.2,2449.8 4526.0,2449.8 4546.4,2433.9 4566.2,2435.9 4586.7,2433.9 4607.1,2433.9 4626.9,2435.9 4647.4,2444.1 4667.1,2472.8 4687.6,2450.1 4708.1,2452.0" fill="none" stroke="#A23B72" stroke-opacity="0.9" stroke-width="8.33" stroke-linejoin="round" stroke-linecap="round"/>
<path d="M349.8 2433.9H4708.0" stroke="#f00" stroke-opacity="0.7" stroke-width="6.25" stroke-dasharray="23.125 10" fill="none"/>
</g>
<rect x="349.8" y="1624.1" width="4358.2" height="1331.8" fill="none" stroke="#ccc" stroke-width="3.9"/>
<text><tspan x="301.1" y="3003.5" font-size="45.50" textLength="96.8" lengthAdjust="spacingAndGlyphs">2008</tspan></text>
<text><tspan x="783.4" y="3003.5" font-size="45.50" textLength="96.8" lengthAdjust="spacingAndGlyphs">2010</tspan></text>
<text><tspan x="1265.0" y="3003.5" font-size="45.50" textLength="96.8" lengthAdjust="spacingAndGlyphs">2012</tspan></text>
<text><tspan x="1747.2" y="3003.5" font-size="45.50" textLength="96.8" lengthAdjust="spacingAndGlyphs">2014</tspan></text>
<text><tspan x="2228.8" y="3003.5" font-size="45.50" textLength="96.8" lengthAdjust="spacingAndGlyphs">2016</tspan></text>
<text><tspan x="2711.1" y="3003.5" font-size="45.50" textLength="96.8" lengthAdjust="spacingAndGlyphs">2018</tspan></text>
<text><tspan x="3192.7" y="3003.5" font-size="45.50" textLength="96.8" lengthAdjust="spacingAndGlyphs">2020</tspan></text>
<text><tspan x="3675.0" y="3003.5" font-size="45.50" textLength="96.8" lengthAdjust="spacingAndGlyphs">2022</tspan></text>
<text><tspan x="4156.6" y="3003.5" font-size="45.50" textLength="96.8" lengthAdjust="spacingAndGlyphs">2024</tspan></text>
<text><tspan x="4638.9" y="3003.5" font-size="45.50" textLength="96.8" lengthAdjust="spacingAndGlyphs">2026</tspan></text>
<text><tspan x="271.8" y="2856.5" font-size="45.50" textLength="62.9" lengthAdjust="spacingAndGlyphs">-40</tspan></text>
<text><tspan x="271.8" y="2653.3" font-size="45.50" textLength="62.9" lengthAdjust="spacingAndGlyphs">-20</tspan></text>
<text><tspan x="310.5" y="2450.2" font-size="45.50" textLength="24.2" lengthAdjust="spacingAndGlyphs">0</tspan></text>
<text><tspan x="286.3" y="2247.1" font-size="45.50" textLength="48.4" lengthAdjust="spacingAndGlyphs">20</tspan></text>
<text><tspan x="286.3" y="2043.9" font-size="45.50" textLength="48.4" lengthAdjust="spacingAndGlyphs">40</tspan></text>
<text><tspan x="286.3" y="1840.8" font-size="45.50" textLength="48.4" lengthAdjust="spacingAndGlyphs">60</tspan></text>
<path d="M387.0 1680H470.3" stroke="#2E86AB" stroke-opacity="0.9" stroke-width="8.33" stroke-linecap="round" fill="none"/>
<text><tspan x="504.7" y="1695.5" font-size="41.67" textLength="290.2" lengthAdjust="spacingAndGlyphs">制造业同比增长</tspan></text>
<path d="M387.0 1744H470.3" stroke="#A23B72" stroke-opacity="0.9" stroke-width="8.33" stroke-linecap="round" fill="none"/>
<text><tspan x="503.2" y="1759.5" font-size="41.67" textLength="333.5" lengthAdjust="spacingAndGlyphs">非制造业同比增长</tspan></text>
<path d="M387.0 1808H470.3" stroke="#f00" stroke-opacity="0.7" stroke-width="6.25" stroke-dasharray="23.125 10" fill="none"/>
<text><tspan x="504.7" y="1823.5" font-size="41.67" textLength="81.9" lengthAdjust="spacingAndGlyphs">零线</tspan></text>
<rect x="387.0" y="1857.4" width="83.3" height="29.2" fill="#008000" fill-opacity="0.1" stroke="#008000" stroke-opacity="0.1" stroke-width="4.17"/>
<text><tspan x="504.7" y="1887.5" font-size="41.67" textLength="163.7" lengthAdjust="spacingAndGlyphs">强增长期</tspan><tspan x="668.4" y="1886.0" font-size="45.21" textLength="298.6" lengthAdjust="spacingAndGlyphs">(2009H2-2010)</tspan></text>
<rect x="387.0" y="1921.4" width="83.3" height="29.2" fill="#FFA500" fill-opacity="0.1" stroke="#FFA500" stroke-opacity="0.1" stroke-width="4.17"/>
<text><tspan x="504.7" y="1951.5" font-size="41.67" textLength="205.1" lengthAdjust="spacingAndGlyphs">疫情复苏期</tspan><tspan x="709.9" y="1950.0" font-size="45.21" textLength="299.5" lengthAdjust="spacingAndGlyphs">(2020-2021H1)</tspan></text>
<rect x="387.0" y="1985.4" width="83.3" height="29.2" fill="#808080" fill-opacity="0.1" stroke="#808080" stroke-opacity="0.1" stroke-width="4.17"/>
<text><tspan x="503.7" y="2015.5" font-size="41.67" textLength="205.4" lengthAdjust="spacingAndGlyphs">动能转弱期</tspan><tspan x="709.1" y="2014.0" font-size="45.21" textLength="171.0" lengthAdjust="spacingAndGlyphs">(2021H2</tspan><tspan x="880.0" y="2015.5" font-size="41.67" textLength="82.1" lengthAdjust="spacingAndGlyphs">至今</tspan><tspan x="962.2" y="2014.0" font-size="45.21" textLength="14.8" lengthAdjust="spacingAndGlyphs">)</tspan></text>
<text font-weight="bold"><tspan x="2028.3" y="1602.0" font-size="66.67" textLength="533.4" lengthAdjust="spacingAndGlyphs">制造业与非制造业</tspan><tspan x="2562.0" y="1599.7" font-size="74.00" textLength="131.5" lengthAdjust="spacingAndGlyphs">PMI</tspan><tspan x="2695.0" y="1602.0" font-size="66.67" textLength="334.6" lengthAdjust="spacingAndGlyphs">同比增长率</tspan></text>
<text transform="translate(238.9,2458.7) rotate(-90)"><tspan x="-4.0" y="1.8" font-size="50.00" textLength="250.8" lengthAdjust="spacingAndGlyphs">同比增长率</tspan> <tspan x="262.1" y="0.0" font-size="54.25" textLength="75.4" lengthAdjust="spacingAndGlyphs">(%)</tspan></text>
<rect x="425.0" y="3161.3" width="846.7" height="812.1" rx="12.5" ry="12.5" fill="#ADD8E6" fill-opacity="0.3" stroke="#000" stroke-opacity="0.3" stroke-width="4.17"/>
<text><tspan x="436.7" y="3209.0" font-size="41.67" textLength="164.5" lengthAdjust="spacingAndGlyphs">数据范围</tspan><tspan x="601.2" y="3207.5" font-size="45.21" textLength="200.9" lengthAdjust="spacingAndGlyphs">: 2008-01 </tspan><tspan x="802.1" y="3209.0" font-size="41.67" textLength="52.5" lengthAdjust="spacingAndGlyphs">至 </tspan><tspan x="854.6" y="3207.5" font-size="45.21" textLength="191.0" lengthAdjust="spacingAndGlyphs">2026-02 (</tspan><tspan x="1045.6" y="3209.0" font-size="41.67" textLength="41.1" lengthAdjust="spacingAndGlyphs">共</tspan><tspan x="1086.7" y="3207.5" font-size="45.21" textLength="74.4" lengthAdjust="spacingAndGlyphs">218</tspan><tspan x="1161.1" y="3209.0" font-size="41.67" textLength="82.2" lengthAdjust="spacingAndGlyphs">个月</tspan><tspan x="1243.4" y="3207.5" font-size="45.21" textLength="14.9" lengthAdjust="spacingAndGlyphs">)</tspan></text>
<text><tspan x="437.2" y="3258.5" font-size="41.67" textLength="175.6" lengthAdjust="spacingAndGlyphs">最新数据 </tspan><tspan x="612.9" y="3257.1" font-size="45.21" textLength="114.0" lengthAdjust="spacingAndGlyphs">(2026</tspan><tspan x="726.8" y="3258.5" font-size="41.67" textLength="41.1" lengthAdjust="spacingAndGlyphs">年</tspan><tspan x="767.9" y="3257.1" font-size="45.21" textLength="49.6" lengthAdjust="spacingAndGlyphs">02</tspan><tspan x="817.4" y="3258.5" font-size="41.67" textLength="41.1" lengthAdjust="spacingAndGlyphs">月</tspan><tspan x="858.5" y="3257.1" font-size="45.21" textLength="27.2" lengthAdjust="spacingAndGlyphs">):</tspan></text>
<text>  <tspan x="461.9" y="3308.1" font-size="41.67" textLength="121.8" lengthAdjust="spacingAndGlyphs">制造业</tspan><tspan x="583.7" y="3306.6" font-size="45.21" textLength="215.4" lengthAdjust="spacingAndGlyphs">PMI: 49.0 (</tspan><tspan x="799.1" y="3308.1" font-size="41.67" textLength="81.2" lengthAdjust="spacingAndGlyphs">收缩</tspan><tspan x="880.2" y="3306.6" font-size="45.21" textLength="14.7" lengthAdjust="spacingAndGlyphs">)</tspan></text>
<text>  <tspan x="460.9" y="3357.6" font-size="41.67" textLength="162.7" lengthAdjust="spacingAndGlyphs">非制造业</tspan><tspan x="623.7" y="3356.2" font-size="45.21" textLength="215.9" lengthAdjust="spacingAndGlyphs">PMI: 49.5 (</tspan><tspan x="839.5" y="3357.6" font-size="41.67" textLength="81.4" lengthAdjust="spacingAndGlyphs">收缩</tspan><tspan x="920.9" y="3356.2" font-size="45.21" textLength="14.7" lengthAdjust="spacingAndGlyphs">)</tspan></text>
<text><tspan x="437.6" y="3456.7" font-size="41.67" textLength="84.5" lengthAdjust="spacingAndGlyphs">扩张</tspan><tspan x="522.1" y="3455.2" font-size="45.21" textLength="12.7" lengthAdjust="spacingAndGlyphs">/</tspan><tspan x="534.8" y="3456.7" font-size="41.67" textLength="169.0" lengthAdjust="spacingAndGlyphs">收缩统计</tspan><tspan x="703.8" y="3455.2" font-size="45.21" textLength="12.7" lengthAdjust="spacingAndGlyphs">:</tspan></text>
<text>  <tspan x="461.9" y="3506.3" font-size="41.67" textLength="122.0" lengthAdjust="spacingAndGlyphs">制造业</tspan><tspan x="583.9" y="3504.8" font-size="45.21" textLength="24.5" lengthAdjust="spacingAndGlyphs">: </tspan><tspan x="608.5" y="3506.3" font-size="41.67" textLength="92.6" lengthAdjust="spacingAndGlyphs">扩张 </tspan><tspan x="701.1" y="3504.8" font-size="45.21" textLength="85.9" lengthAdjust="spacingAndGlyphs">152 </tspan><tspan x="787.0" y="3506.3" font-size="41.67" textLength="92.6" lengthAdjust="spacingAndGlyphs">个月 </tspan><tspan x="879.7" y="3504.8" font-size="45.21" textLength="154.5" lengthAdjust="spacingAndGlyphs">(69.7%)</tspan></text>
<text>         <tspan x="548.0" y="3555.8" font-size="41.67" textLength="92.7" lengthAdjust="spacingAndGlyphs">收缩 </tspan><tspan x="640.7" y="3554.3" font-size="45.21" textLength="61.4" lengthAdjust="spacingAndGlyphs">66 </tspan><tspan x="702.1" y="3555.8" font-size="41.67" textLength="92.7" lengthAdjust="spacingAndGlyphs">个月 </tspan><tspan x="794.8" y="3554.3" font-size="45.21" textLength="154.6" lengthAdjust="spacingAndGlyphs">(30.3%)</tspan></text>
<text>  <tspan x="460.9" y="3605.4" font-size="41.67" textLength="163.2" lengthAdjust="spacingAndGlyphs">非制造业</tspan><tspan x="624.1" y="3603.9" font-size="45.21" textLength="24.6" lengthAdjust="spacingAndGlyphs">: </tspan><tspan x="648.7" y="3605.4" font-size="41.67" textLength="92.9" lengthAdjust="spacingAndGlyphs">扩张 </tspan><tspan x="741.7" y="3603.9" font-size="45.21" textLength="86.2" lengthAdjust="spacingAndGlyphs">207 </tspan><tspan x="827.9" y="3605.4" font-size="41.67" textLength="92.9" lengthAdjust="spacingAndGlyphs">个月 </tspan><tspan x="920.8" y="3603.9" font-size="45.21" textLength="155.0" lengthAdjust="spacingAndGlyphs">(95.0%)</tspan></text>
<text>           <tspan x="572.9" y="3654.9" font-size="41.67" textLength="93.4" lengthAdjust="spacingAndGlyphs">收缩 </tspan><tspan x="666.4" y="3653.4" font-size="45.21" textLength="58.6" lengthAdjust="spacingAndGlyphs">11 </tspan><tspan x="724.9" y="3654.9" font-size="41.67" textLength="93.4" lengthAdjust="spacingAndGlyphs">个月 </tspan><tspan x="818.3" y="3653.4" font-size="45.21" textLength="131.1" lengthAdjust="spacingAndGlyphs">(5.0%)</tspan></text>
<text><tspan x="437.6" y="3754.0" font-size="41.67" textLength="165.6" lengthAdjust="spacingAndGlyphs">历史极值</tspan><tspan x="603.3" y="3752.6" font-size="45.21" textLength="12.5" lengthAdjust="spacingAndGlyphs">:</tspan></text>
<text>  <tspan x="461.9" y="3803.6" font-size="41.67" textLength="203.0" lengthAdjust="spacingAndGlyphs">制造业最高</tspan><tspan x="664.9" y="3802.1" font-size="45.21" textLength="235.2" lengthAdjust="spacingAndGlyphs">: 59.2 (2008</tspan><tspan x="900.1" y="3803.6" font-size="41.67" textLength="40.6" lengthAdjust="spacingAndGlyphs">年</tspan><tspan x="940.7" y="3802.1" font-size="45.21" textLength="49.0" lengthAdjust="spacingAndGlyphs">04</tspan><tspan x="989.7" y="3803.6" font-size="41.67" textLength="40.6" lengthAdjust="spacingAndGlyphs">月</tspan><tspan x="1030.3" y="3802.1" font-size="45.21" textLength="14.7" lengthAdjust="spacingAndGlyphs">)</tspan></text>
<text>  <tspan x="461.9" y="3853.1" font-size="41.67" textLength="203.0" lengthAdjust="spacingAndGlyphs">制造业最低</tspan><tspan x="664.9" y="3851.7" font-size="45.21" textLength="235.2" lengthAdjust="spacingAndGlyphs">: 35.7 (2020</tspan><tspan x="900.1" y="3853.1" font-size="41.67" textLength="40.6" lengthAdjust="spacingAndGlyphs">年</tspan><tspan x="940.7" y="3851.7" font-size="45.21" textLength="49.0" lengthAdjust="spacingAndGlyphs">02</tspan><tspan x="989.7" y="3853.1" font-size="41.67" textLength="40.6" lengthAdjust="spacingAndGlyphs">月</tspan><tspan x="1030.3" y="3851.7" font-size="45.21" textLength="14.7" lengthAdjust="spacingAndGlyphs">)</tspan></text>
<text>  <tspan x="460.9" y="3902.7" font-size="41.67" textLength="244.4" lengthAdjust="spacingAndGlyphs">非制造业最高</tspan><tspan x="705.3" y="3901.2" font-size="45.21" textLength="235.9" lengthAdjust="spacingAndGlyphs">: 60.2 (2008</tspan><tspan x="941.2" y="3902.7" font-size="41.67" textLength="40.7" lengthAdjust="spacingAndGlyphs">年</tspan><tspan x="981.9" y="3901.2" font-size="45.21" textLength="49.2" lengthAdjust="spacingAndGlyphs">01</tspan><tspan x="1031.1" y="3902.7" font-size="41.67" textLength="40.7" lengthAdjust="spacingAndGlyphs">月</tspan><tspan x="1071.8" y="3901.2" font-size="45.21" textLength="14.7" lengthAdjust="spacingAndGlyphs">)</tspan></text>
<text>  <tspan x="460.9" y="3952.2" font-size="41.67" textLength="244.4" lengthAdjust="spacingAndGlyphs">非制造业最低</tspan><tspan x="705.3" y="3950.8" font-size="45.21" textLength="235.9" lengthAdjust="spacingAndGlyphs">: 29.6 (2020</tspan><tspan x="941.2" y="3952.2" font-size="41.67" textLength="40.7" lengthAdjust="spacingAndGlyphs">年</tspan><tspan x="981.9" y="3950.8" font-size="45.21" textLength="49.2" lengthAdjust="spacingAndGlyphs">02</tspan><tspan x="1031.1" y="3952.2" font-size="41.67" textLength="40.7" lengthAdjust="spacingAndGlyphs">月</tspan><tspan x="1071.8" y="3950.8" font-size="45.21" textLength="14.7" lengthAdjust="spacingAndGlyphs">)</tspan></text>
<rect x="2734.2" y="3161.4" width="960.0" height="316.0" rx="12.5" ry="12.5" fill="#F5DEB3" fill-opacity="0.3" stroke="#000" stroke-opacity="0.3" stroke-width="4.17"/>
<text><tspan x="2746.5" y="3209.0" font-size="41.67" textLength="167.0" lengthAdjust="spacingAndGlyphs">主要观察</tspan><tspan x="2913.5" y="3207.5" font-size="45.21" textLength="12.6" lengthAdjust="spacingAndGlyphs">:</tspan></text>
<text><tspan x="2748.2" y="3257.1" font-size="45.21" textLength="35.1" lengthAdjust="spacingAndGlyphs">1.</tspan> <tspan x="2792.0" y="3258.5" font-size="41.67" textLength="711.2" lengthAdjust="spacingAndGlyphs">非制造业长期扩张概率显著高于制造业</tspan></text>
<text><tspan x="2746.5" y="3306.6" font-size="45.21" textLength="149.8" lengthAdjust="spacingAndGlyphs">2. 2026</tspan><tspan x="2896.3" y="3308.1" font-size="41.67" textLength="786.3" lengthAdjust="spacingAndGlyphs">年初两大部门均处收缩区间，经济面临压力</tspan></text>
<text><tspan x="2747.5" y="3356.2" font-size="45.21" textLength="35.8" lengthAdjust="spacingAndGlyphs">3.</tspan> <tspan x="2792.0" y="3357.6" font-size="41.67" textLength="835.7" lengthAdjust="spacingAndGlyphs">非制造业在危机后复苏更快，但近期动能减弱</tspan></text>
<text><tspan x="2747.0" y="3405.7" font-size="45.21" textLength="36.4" lengthAdjust="spacingAndGlyphs">4.</tspan> <tspan x="2794.0" y="3407.2" font-size="41.67" textLength="875.2" lengthAdjust="spacingAndGlyphs">制造业对贸易和工业需求更敏感，有时具领先性</tspan></text>
<text><tspan x="2747.5" y="3455.2" font-size="45.21" textLength="149.5" lengthAdjust="spacingAndGlyphs">5. 2021</tspan><tspan x="2897.0" y="3456.7" font-size="41.67" textLength="536.7" lengthAdjust="spacingAndGlyphs">下半年以来增长动能持续偏弱</tspan></text>
</svg>
</body></html>
